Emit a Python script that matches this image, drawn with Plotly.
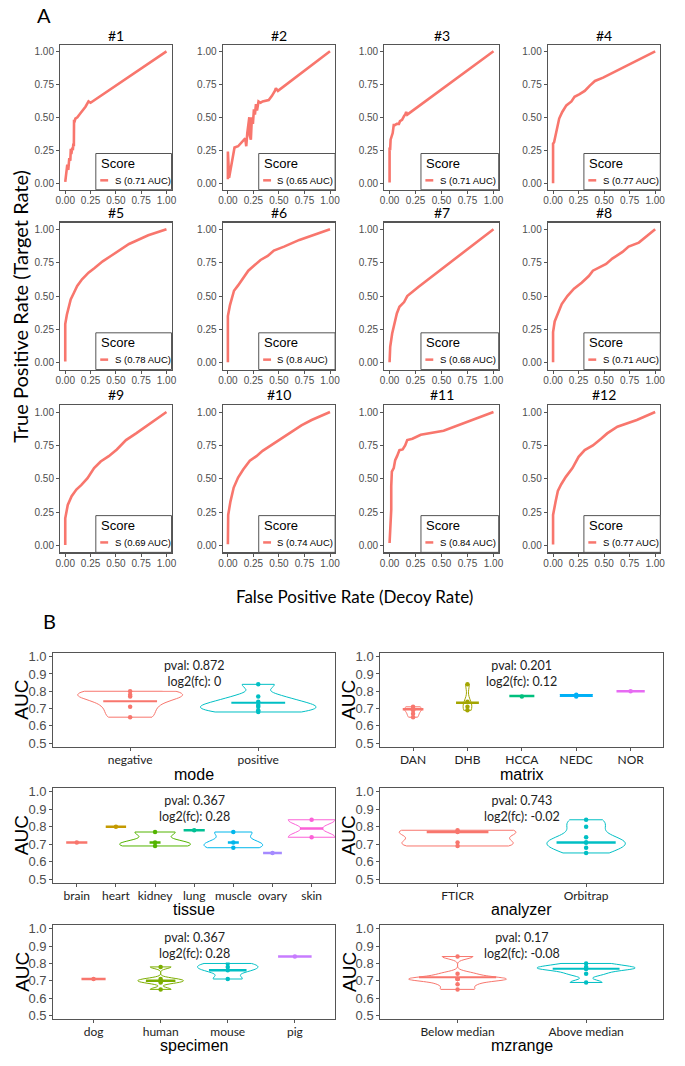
import numpy as np
import plotly.graph_objects as go

W, H = 685, 1066

# ---------------- Panel A data (ROC curves) ----------------
roc_titles = ['#1', '#2', '#3', '#4', '#5', '#6', '#7', '#8', '#9', '#10', '#11', '#12']
roc_auc = ['0.71', '0.65', '0.71', '0.77', '0.78', '0.8', '0.68', '0.71', '0.69', '0.74', '0.84', '0.77']

roc01_fpr = [0.0, 0.006, 0.02, 0.03, 0.04, 0.05, 0.055, 0.06, 0.07, 0.075, 0.08, 0.085, 0.087, 0.09, 0.10, 0.12, 0.15, 0.18, 0.20, 0.23, 0.25, 1.0]
roc01_tpr = [0.01, 0.06, 0.14, 0.10, 0.19, 0.17, 0.26, 0.22, 0.27, 0.25, 0.30, 0.28, 0.48, 0.46, 0.49, 0.50, 0.53, 0.56, 0.58, 0.62, 0.61, 1.0]
roc02_fpr = [0.0, 0.0, 0.012, 0.03, 0.05, 0.065, 0.10, 0.15, 0.17, 0.18, 0.19, 0.21, 0.215, 0.225, 0.235, 0.245, 0.255, 0.265, 0.275, 0.285, 0.30, 0.32, 0.34, 0.40, 0.43, 0.46, 0.47, 0.49, 1.0]
roc02_tpr = [0.03, 0.24, 0.04, 0.13, 0.22, 0.27, 0.28, 0.32, 0.34, 0.28, 0.38, 0.50, 0.36, 0.33, 0.50, 0.45, 0.56, 0.52, 0.60, 0.55, 0.62, 0.61, 0.62, 0.63, 0.66, 0.70, 0.72, 0.70, 1.0]
roc03_fpr = [0.0, 0.0, 0.005, 0.01, 0.02, 0.03, 0.04, 0.05, 0.07, 0.09, 0.10, 0.12, 0.14, 0.15, 0.16, 0.17, 1.0]
roc03_tpr = [0.005, 0.27, 0.25, 0.33, 0.35, 0.38, 0.44, 0.44, 0.45, 0.45, 0.47, 0.48, 0.51, 0.52, 0.54, 0.52, 1.0]
roc04_fpr = [0.0, 0.0, 0.01, 0.02, 0.04, 0.06, 0.09, 0.13, 0.18, 0.21, 0.26, 0.31, 0.36, 0.41, 0.49, 1.0]
roc04_tpr = [0.0, 0.30, 0.31, 0.35, 0.41, 0.49, 0.54, 0.59, 0.62, 0.655, 0.675, 0.70, 0.74, 0.775, 0.80, 1.0]
roc05_fpr = [0.0, 0.0, 0.016, 0.04, 0.054, 0.086, 0.118, 0.166, 0.23, 0.29, 0.37, 0.45, 0.53, 0.63, 0.69, 0.82, 1.0]
roc05_tpr = [0.01, 0.29, 0.36, 0.43, 0.475, 0.525, 0.575, 0.625, 0.675, 0.71, 0.76, 0.80, 0.84, 0.89, 0.91, 0.955, 1.0]
roc06_fpr = [0.0, 0.0, 0.02, 0.04, 0.06, 0.10, 0.13, 0.15, 0.20, 0.26, 0.32, 0.39, 0.45, 0.55, 0.70, 1.0]
roc06_tpr = [0.005, 0.35, 0.43, 0.49, 0.54, 0.58, 0.615, 0.64, 0.69, 0.73, 0.77, 0.80, 0.84, 0.87, 0.92, 1.0]
roc07_fpr = [0.0, 0.006, 0.025, 0.047, 0.07, 0.095, 0.14, 0.17, 0.20, 0.25, 0.28, 1.0]
roc07_tpr = [0.005, 0.12, 0.22, 0.29, 0.37, 0.42, 0.455, 0.50, 0.52, 0.55, 0.57, 1.0]
roc08_fpr = [0.0, 0.0, 0.016, 0.047, 0.085, 0.14, 0.205, 0.28, 0.35, 0.39, 0.46, 0.52, 0.58, 0.68, 0.74, 0.84, 1.0]
roc08_tpr = [0.005, 0.23, 0.31, 0.37, 0.44, 0.50, 0.555, 0.60, 0.65, 0.69, 0.72, 0.74, 0.78, 0.83, 0.87, 0.90, 1.0]
roc09_fpr = [0.0, 0.0, 0.025, 0.063, 0.11, 0.16, 0.22, 0.285, 0.35, 0.43, 0.51, 0.60, 0.70, 0.79, 0.89, 1.0]
roc09_tpr = [0.005, 0.205, 0.305, 0.37, 0.42, 0.455, 0.505, 0.58, 0.63, 0.67, 0.72, 0.79, 0.84, 0.89, 0.94, 1.0]
roc10_fpr = [0.0, 0.003, 0.025, 0.057, 0.10, 0.15, 0.215, 0.28, 0.34, 0.44, 0.53, 0.63, 0.72, 0.82, 1.0]
roc10_tpr = [0.01, 0.23, 0.33, 0.435, 0.51, 0.57, 0.635, 0.67, 0.71, 0.76, 0.81, 0.86, 0.90, 0.94, 1.0]
roc11_fpr = [0.0, 0.01, 0.016, 0.016, 0.022, 0.04, 0.054, 0.072, 0.095, 0.126, 0.15, 0.17, 0.22, 0.30, 0.43, 0.52, 1.0]
roc11_tpr = [0.02, 0.17, 0.27, 0.445, 0.555, 0.58, 0.64, 0.67, 0.715, 0.72, 0.75, 0.79, 0.80, 0.83, 0.85, 0.86, 1.0]
roc12_fpr = [0.0, 0.0, 0.025, 0.047, 0.08, 0.125, 0.19, 0.25, 0.31, 0.39, 0.47, 0.53, 0.63, 0.72, 0.82, 1.0]
roc12_tpr = [0.008, 0.23, 0.33, 0.41, 0.46, 0.515, 0.58, 0.665, 0.715, 0.75, 0.80, 0.84, 0.89, 0.915, 0.94, 1.0]

roc_fpr = [roc01_fpr, roc02_fpr, roc03_fpr, roc04_fpr, roc05_fpr, roc06_fpr,
           roc07_fpr, roc08_fpr, roc09_fpr, roc10_fpr, roc11_fpr, roc12_fpr]
roc_tpr = [roc01_tpr, roc02_tpr, roc03_tpr, roc04_tpr, roc05_tpr, roc06_tpr,
           roc07_tpr, roc08_tpr, roc09_tpr, roc10_tpr, roc11_tpr, roc12_tpr]

# ---------------- Panel B data (AUC violins) ----------------
mode_cats = ['negative', 'positive']
mode_values = [[0.80, 0.78, 0.77, 0.71, 0.65], [0.84, 0.77, 0.74, 0.72, 0.71, 0.69, 0.68]]
mode_center = [0.742, 0.734]
mode_stats = ['0.872', '0']

matrix_cats = ['DAN', 'DHB', 'HCCA', 'NEDC', 'NOR']
matrix_values = [[0.71, 0.70, 0.69, 0.67, 0.65], [0.84, 0.74, 0.71, 0.69], [0.77], [0.78, 0.77], [0.80]]
matrix_center = [0.696, 0.733, 0.773, 0.777, 0.80]
matrix_stats = ['0.201', '0.12']

tissue_cats = ['brain', 'heart', 'kidney', 'lung', 'muscle', 'ovary', 'skin']
tissue_values = [[0.71], [0.80], [0.77, 0.71, 0.69], [0.78], [0.77, 0.71, 0.68], [0.65], [0.84, 0.74]]
tissue_center = [0.71, 0.80, 0.71, 0.78, 0.71, 0.65, 0.79]
tissue_stats = ['0.367', '0.28']

analyzer_cats = ['FTICR', 'Orbitrap']
analyzer_values = [[0.78, 0.77, 0.71, 0.69], [0.84, 0.80, 0.74, 0.71, 0.71, 0.68, 0.65]]
analyzer_center = [0.77, 0.71]
analyzer_stats = ['0.743', '-0.02']

specimen_cats = ['dog', 'human', 'mouse', 'pig']
specimen_values = [[0.71], [0.78, 0.71, 0.70, 0.69, 0.65], [0.80, 0.78, 0.76, 0.71], [0.84]]
specimen_center = [0.71, 0.70, 0.76, 0.84]
specimen_stats = ['0.367', '0.28']

mzrange_cats = ['Below median', 'Above median']
mzrange_values = [[0.84, 0.74, 0.71, 0.71, 0.71, 0.68, 0.65], [0.80, 0.78, 0.77, 0.77, 0.74, 0.69]]
mzrange_center = [0.72, 0.77]
mzrange_stats = ['0.17', '-0.08']

# ---------------- styling ----------------
HUE = {2: ['#F8766D', '#00BFC4'],
       4: ['#F8766D', '#7CAE00', '#00BFC4', '#C77CFF'],
       5: ['#F8766D', '#A3A500', '#00BF7D', '#00B0F6', '#E76BF3'],
       7: ['#F8766D', '#C49A00', '#53B400', '#00C094', '#00B6EB', '#A58AFF', '#FB61D7']}
GRAY = '#4d4d4d'
BORDER = '#555555'
ARIAL = 'Liberation Sans, Arial, sans-serif'
CALI = 'Lato, Open Sans, sans-serif'

panels_B = [
    dict(name='mode', cats=mode_cats, vals=mode_values, center=mode_center, stats=mode_stats,
         vw=[0.82, 0.90], hw=[0.21, 0.21], lw=2),
    dict(name='matrix', cats=matrix_cats, vals=matrix_values, center=matrix_center, stats=matrix_stats,
         vw=[0.32, 0.16, 0, 0.6, 0], hw=[0.19, 0.21, 0.23, 0.30, 0.26], lw=2.5),
    dict(name='tissue', cats=tissue_cats, vals=tissue_values, center=tissue_center, stats=tissue_stats,
         vw=[0, 0, 1.8, 0, 1.5, 0, 1.2], hw=[0.27, 0.26, 0.14, 0.27, 0.14, 0.24, 0.30], lw=2.5),
    dict(name='analyzer', cats=analyzer_cats, vals=analyzer_values, center=analyzer_center, stats=analyzer_stats,
         vw=[0.91, 0.61], hw=[0.24, 0.23], lw=2.5),
    dict(name='specimen', cats=specimen_cats, vals=specimen_values, center=specimen_center, stats=specimen_stats,
         vw=[0, 0.68, 0.9, 0], hw=[0.18, 0.22, 0.28, 0.25], lw=2.5),
    dict(name='mzrange', cats=mzrange_cats, vals=mzrange_values, center=mzrange_center, stats=mzrange_stats,
         vw=[0.76, 0.76], hw=[0.30, 0.26], lw=2),
]

A_cols = [(56, 169), (221, 335), (385, 501), (551, 665)]
A_rows = [(42, 188), (221, 369), (405, 553)]
A_title_y = [33, 211, 394]
B_cols = [(49, 335), (381, 668)]
B_rows = [(654, 749), (790, 886), (928, 1023)]
B_title_y = [777, 912, 1049]


def xd(l, r):
    return [l / W, r / W]


def yd(t, b):
    return [1 - b / H, 1 - t / H]


def nrd0(v):
    v = np.asarray(v, float)
    sd = v.std(ddof=1)
    iqr = np.percentile(v, 75) - np.percentile(v, 25)
    lo = min(sd, iqr / 1.34) if iqr > 0 else sd
    if lo <= 0:
        lo = abs(v[0]) if v[0] != 0 else 1.0
    return 0.9 * lo * len(v) ** (-0.2)


fig = go.Figure()
layout = dict(width=W, height=H, margin=dict(l=0, r=0, t=0, b=0),
              paper_bgcolor='white', plot_bgcolor='white', showlegend=False,
              violinmode='overlay')
shapes, annots = [], []


def axkeys(i):
    s = '' if i == 1 else str(i)
    return 'xaxis' + s, 'yaxis' + s, 'x' + s, 'y' + s


base_ax = dict(showline=True, mirror=True, linecolor=BORDER, linewidth=1.2, ticks='outside',
               ticklen=3, tickcolor=BORDER, showgrid=False, zeroline=False, fixedrange=True)

# ---------------- Panel A ----------------
ticks_a = [0, 0.25, 0.5, 0.75, 1.0]
ticks_a_txt = ['0.00', '0.25', '0.50', '0.75', '1.00']
for k in range(12):
    i = k + 1
    r, c = divmod(k, 4)
    xk, yk, xn, yn = axkeys(i)
    layout[xk] = dict(base_ax, domain=xd(*A_cols[c]), anchor=yn, range=[-0.05, 1.05],
                      tickvals=ticks_a, ticktext=ticks_a_txt, ticklabelstandoff=-2,
                      tickfont=dict(family=ARIAL, size=10, color=GRAY))
    layout[yk] = dict(base_ax, domain=yd(*A_rows[r]), anchor=xn, range=[-0.05, 1.05],
                      tickvals=ticks_a, ticktext=ticks_a_txt,
                      tickfont=dict(family=ARIAL, size=10, color=GRAY))
    fig.add_trace(go.Scatter(x=roc_fpr[k], y=roc_tpr[k], mode='lines', xaxis=xn, yaxis=yn,
                             line=dict(color=HUE[2][0], width=2.6), hoverinfo='skip'))
    annots.append(dict(text=roc_titles[k], xref='paper', yref='paper',
                       x=(A_cols[c][0] + A_cols[c][1]) / 2 / W, y=1 - A_title_y[r] / H,
                       xanchor='center', yanchor='middle', showarrow=False,
                       font=dict(family=CALI, size=14, color='black')))
    # legend box
    bx0 = 0.32
    byt = 0.25
    shapes.append(dict(type='rect', xref=xn + ' domain', yref=yn + ' domain', x0=bx0, x1=1, y0=0, y1=byt,
                       line=dict(color=BORDER, width=1), fillcolor='white', layer='above'))
    wpx = A_cols[c][1] - A_cols[c][0]
    hpx = A_rows[r][1] - A_rows[r][0]
    annots.append(dict(text='Score', xref=xn + ' domain', yref=yn + ' domain', x=bx0 + 3 / wpx,
                       y=byt - 10 / hpx, xanchor='left', yanchor='middle', showarrow=False,
                       font=dict(family=ARIAL, size=13, color='black')))
    ly = byt - 27 / hpx
    shapes.append(dict(type='line', xref=xn + ' domain', yref=yn + ' domain', x0=bx0 + 4.5 / wpx,
                       x1=bx0 + 12.5 / wpx, y0=ly, y1=ly, line=dict(color=HUE[2][0], width=2.5),
                       layer='above'))
    annots.append(dict(text='S (%s AUC)' % roc_auc[k], xref=xn + ' domain', yref=yn + ' domain',
                       x=bx0 + 17 / wpx, y=ly, xanchor='left', yanchor='middle', showarrow=False,
                       font=dict(family=ARIAL, size=9.5, color='black')))

annots.append(dict(text='A', xref='paper', yref='paper', x=40 / W, y=1 - 12 / H, xanchor='center',
                   yanchor='middle', showarrow=False, font=dict(family=CALI, size=20, color='black')))
annots.append(dict(text='B', xref='paper', yref='paper', x=45 / W, y=1 - 622 / H, xanchor='center',
                   yanchor='middle', showarrow=False, font=dict(family=CALI, size=20, color='black')))
annots.append(dict(text='True Positive Rate (Target Rate)', xref='paper', yref='paper', x=15 / W,
                   y=1 - 305 / H, xanchor='center', yanchor='middle', textangle=-90, showarrow=False,
                   font=dict(family=CALI, size=20, color='black')))
annots.append(dict(text='False Positive Rate (Decoy Rate)', xref='paper', yref='paper', x=355 / W,
                   y=1 - 597 / H, xanchor='center', yanchor='middle', showarrow=False,
                   font=dict(family=CALI, size=17, color='black')))

# ---------------- Panel B ----------------
ticks_b = [0.5, 0.6, 0.7, 0.8, 0.9, 1.0]
ticks_b_txt = ['0.5', '0.6', '0.7', '0.8', '0.9', '1.0']
for p, pan in enumerate(panels_B):
    i = 13 + p
    r, c = divmod(p, 2)
    xk, yk, xn, yn = axkeys(i)
    n = len(pan['cats'])
    cols = HUE[n]
    layout[xk] = dict(base_ax, domain=xd(*B_cols[c]), anchor=yn, range=[-0.6, n - 0.4],
                      tickvals=list(range(n)), ticktext=pan['cats'], ticklabelstandoff=-2,
                      tickfont=dict(family=CALI, size=12, color='#222222'))
    layout[yk] = dict(base_ax, domain=yd(*B_rows[r]), anchor=xn, range=[0.477, 1.023],
                      tickvals=ticks_b, ticktext=ticks_b_txt,
                      tickfont=dict(family=ARIAL, size=13, color=GRAY))
    for g in range(n):
        vals = pan['vals'][g]
        col = cols[g]
        if len(vals) >= 2 and pan['vw'][g] > 0:
            fig.add_trace(go.Violin(x=[g] * len(vals), y=vals, xaxis=xn, yaxis=yn,
                                    line=dict(color=col, width=1), fillcolor='rgba(255,255,255,0)',
                                    points='all', pointpos=0, jitter=0,
                                    marker=dict(size=4.5, color=col), spanmode='hard',
                                    bandwidth=nrd0(vals), width=pan['vw'][g], scalemode='width',
                                    box_visible=False, meanline_visible=False, hoverinfo='skip'))
        else:
            fig.add_trace(go.Scatter(x=[g] * len(vals), y=vals, mode='markers', xaxis=xn, yaxis=yn,
                                     marker=dict(size=4.5, color=col), hoverinfo='skip'))
        hw = pan['hw'][g]
        fig.add_trace(go.Scatter(x=[g - hw, g + hw], y=[pan['center'][g]] * 2, mode='lines',
                                 xaxis=xn, yaxis=yn, line=dict(color=col, width=pan['lw']),
                                 hoverinfo='skip'))
    cx = (B_cols[c][0] + B_cols[c][1]) / 2
    annots.append(dict(text='pval: %s<br>log2(fc): %s' % tuple(pan['stats']), xref='paper',
                       yref='paper', x=cx / W, y=1 - (B_rows[r][0] + 3) / H, xanchor='center',
                       yanchor='top', showarrow=False, bgcolor='white', borderpad=1,
                       font=dict(family=CALI, size=12.5, color='#222222')))
    annots.append(dict(text=pan['name'], xref='paper', yref='paper', x=cx / W,
                       y=1 - B_title_y[r] / H, xanchor='center', yanchor='middle', showarrow=False,
                       font=dict(family=ARIAL, size=16, color='black')))
    annots.append(dict(text='AUC', xref='paper', yref='paper', x=(17 if c == 0 else 349) / W,
                       y=1 - (B_rows[r][0] + B_rows[r][1]) / 2 / H, xanchor='center',
                       yanchor='middle', textangle=-90, showarrow=False,
                       font=dict(family=ARIAL, size=19, color='black')))

layout['shapes'] = shapes
layout['annotations'] = annots
fig.update_layout(**layout)
fig.write_html('out.html', config={'displayModeBar': False, 'staticPlot': True},
               post_script="document.body.style.margin='0px';document.body.style.padding='0px';"
                           "document.documentElement.style.overflow='hidden';")
